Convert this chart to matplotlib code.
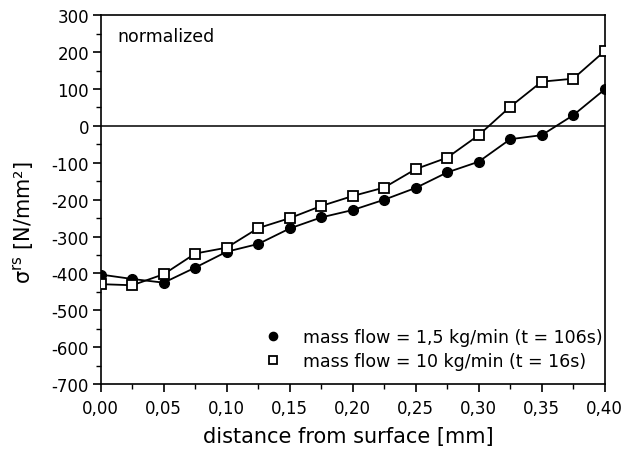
import matplotlib.pyplot as plt
from matplotlib.ticker import MultipleLocator, FuncFormatter

plt.rcParams['font.family'] = ['DejaVu Sans']
plt.rcParams['axes.unicode_minus'] = False

distance = [0.000, 0.025, 0.050, 0.075, 0.100, 0.125, 0.150, 0.175, 0.200,
            0.225, 0.250, 0.275, 0.300, 0.325, 0.350, 0.375, 0.400]
slow_flow = [-403, -415, -425, -384, -341, -320, -278, -248, -228,
             -200, -168, -126, -97, -36, -25, 29, 99]
fast_flow = [-429, -432, -402, -346, -330, -277, -250, -217, -190,
             -167, -117, -86, -25, 52, 120, 128, 203]
labels = ['mass flow = 1,5 kg/min (t = 106s)', 'mass flow = 10 kg/min (t = 16s)']

fig = plt.figure(figsize=(6.26, 4.52), dpi=100)
ax = fig.add_axes([0.161, 0.148, 0.805, 0.816])

ax.axhline(0, color='k', lw=1.1, zorder=1)

ax.plot(distance, slow_flow, '-', color='k', lw=1.3, zorder=2)
ax.plot(distance, fast_flow, '-', color='k', lw=1.3, zorder=2)
ax.plot(distance, slow_flow, 'o', color='k', ms=7, label=labels[0], zorder=3)
ax.plot(distance, fast_flow, 's', mfc='white', mec='k', mew=1.3, ms=6.5,
        label=labels[1], zorder=3)

ax.set_xlim(0, 0.4)
ax.set_ylim(-700, 300)
ax.xaxis.set_major_locator(MultipleLocator(0.05))
ax.xaxis.set_minor_locator(MultipleLocator(0.025))
ax.yaxis.set_major_locator(MultipleLocator(100))
ax.yaxis.set_minor_locator(MultipleLocator(50))
ax.xaxis.set_major_formatter(FuncFormatter(lambda v, p: f'{v:.2f}'.replace('.', ',')))
ax.tick_params(which='major', direction='out', length=5.5, width=1.2, labelsize=12)
ax.tick_params(axis='x', which='major', pad=5)
ax.tick_params(axis='y', which='major', pad=3)
ax.tick_params(which='minor', direction='out', length=3.5, width=1.0)
for s in ax.spines.values():
    s.set_linewidth(1.2)

ax.set_xlabel('distance from surface [mm]', fontsize=15)
ax.set_ylabel('σ$^{\\mathrm{rs}}$ [N/mm²]', fontsize=15)
ax.xaxis.set_label_coords(0.492, -0.114)
ax.yaxis.set_label_coords(-0.127, 0.44)

ax.text(0.032, 0.943, 'normalized', transform=ax.transAxes, fontsize=12.5, va='center')

ax.legend(loc='lower right', bbox_to_anchor=(0.995, 0.037), frameon=False,
          fontsize=12.5, handlelength=1.0, handletextpad=1.2, borderpad=0,
          borderaxespad=0, labelspacing=0.35, markerscale=0.85)

fig.savefig('out.png', dpi=100)
